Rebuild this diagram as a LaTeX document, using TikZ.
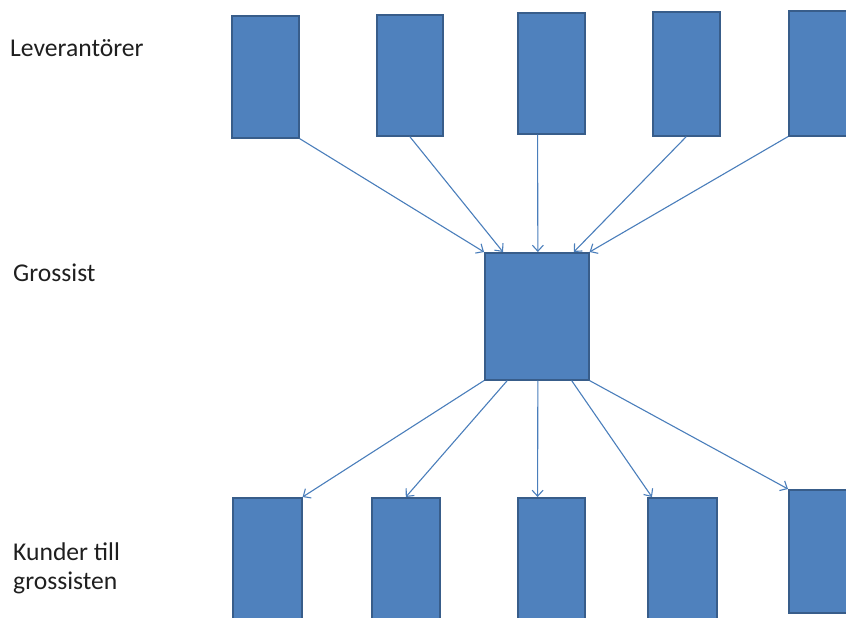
\documentclass[tikz,border=0pt]{standalone}
\usepackage{fontspec}
\setmainfont{Carlito}
\usetikzlibrary{arrows.meta,calc}
\definecolor{boxfill}{HTML}{4F81BD}
\definecolor{boxline}{HTML}{385D8A}
\definecolor{arrowline}{HTML}{4A7EBB}
\definecolor{textgray}{HTML}{1F1F1F}
\begin{document}
\begin{tikzpicture}[x=1pt,y=-1pt,
  blk/.style={draw=boxline,fill=boxfill,line width=1.6pt,inner sep=0pt,anchor=north west},
  flow/.style={draw=arrowline,line width=1.1pt,-{Straight Barb[length=6pt,width=11pt]}},
  lbl/.style={anchor=base west,inner sep=0pt,text=textgray,font=\fontsize{25.6}{29}\selectfont}]
\useasboundingbox (0,0) rectangle (846,618);
\clip (0,0) rectangle (846,618);

% row labels
\node[lbl] (lev) at (10,57) {Leverantörer};
\node[lbl] (gro) at (13,281) {Grossist};
\node[lbl] (kun1) at (13,560) {Kunder till};
\node[lbl] (kun2) at (13,589) {grossisten};

% suppliers
\node[blk,minimum width=67pt,minimum height=122pt] (s1) at (231,15) {};
\node[blk,minimum width=66pt,minimum height=121pt] (s2) at (376,14) {};
\node[blk,minimum width=67pt,minimum height=121pt] (s3) at (517,12) {};
\node[blk,minimum width=67pt,minimum height=124pt] (s4) at (652,11) {};
\node[blk,minimum width=75pt,minimum height=125pt] (s5) at (788,10) {};

% wholesaler
\node[blk,minimum width=104pt,minimum height=127pt] (g) at (484,252) {};

% customers
\node[blk,minimum width=69pt,minimum height=126pt] (k1) at (232,497) {};
\node[blk,minimum width=68pt,minimum height=126pt] (k2) at (371,497) {};
\node[blk,minimum width=67pt,minimum height=126pt] (k3) at (517,497) {};
\node[blk,minimum width=69pt,minimum height=126pt] (k4) at (647,497) {};
\node[blk,minimum width=75pt,minimum height=123pt] (k5) at (788,489) {};

% supplier -> wholesaler
\draw[flow] (s1.south east) -- (g.north west);
\draw[flow] (s2.south) -- ($(g.north west)!0.18!(g.north east)$);
\draw[flow] ($(s3.south west)!0.3!(s3.south east)$) -- ($(g.north west)!0.51!(g.north east)$);
\draw[flow] (s4.south) -- ($(g.north west)!0.85!(g.north east)$);
\draw[flow] (s5.south west) -- (g.north east);

% wholesaler -> customers
\draw[flow] (g.south west) -- (k1.north east);
\draw[flow] ($(g.south west)!0.22!(g.south east)$) -- (k2.north);
\draw[flow] ($(g.south west)!0.51!(g.south east)$) -- ($(k3.north west)!0.3!(k3.north east)$);
\draw[flow] ($(g.south west)!0.83!(g.south east)$) -- ($(k4.north west)!0.07!(k4.north east)$);
\draw[flow] (g.south east) -- (k5.north west);
\end{tikzpicture}
\end{document}
